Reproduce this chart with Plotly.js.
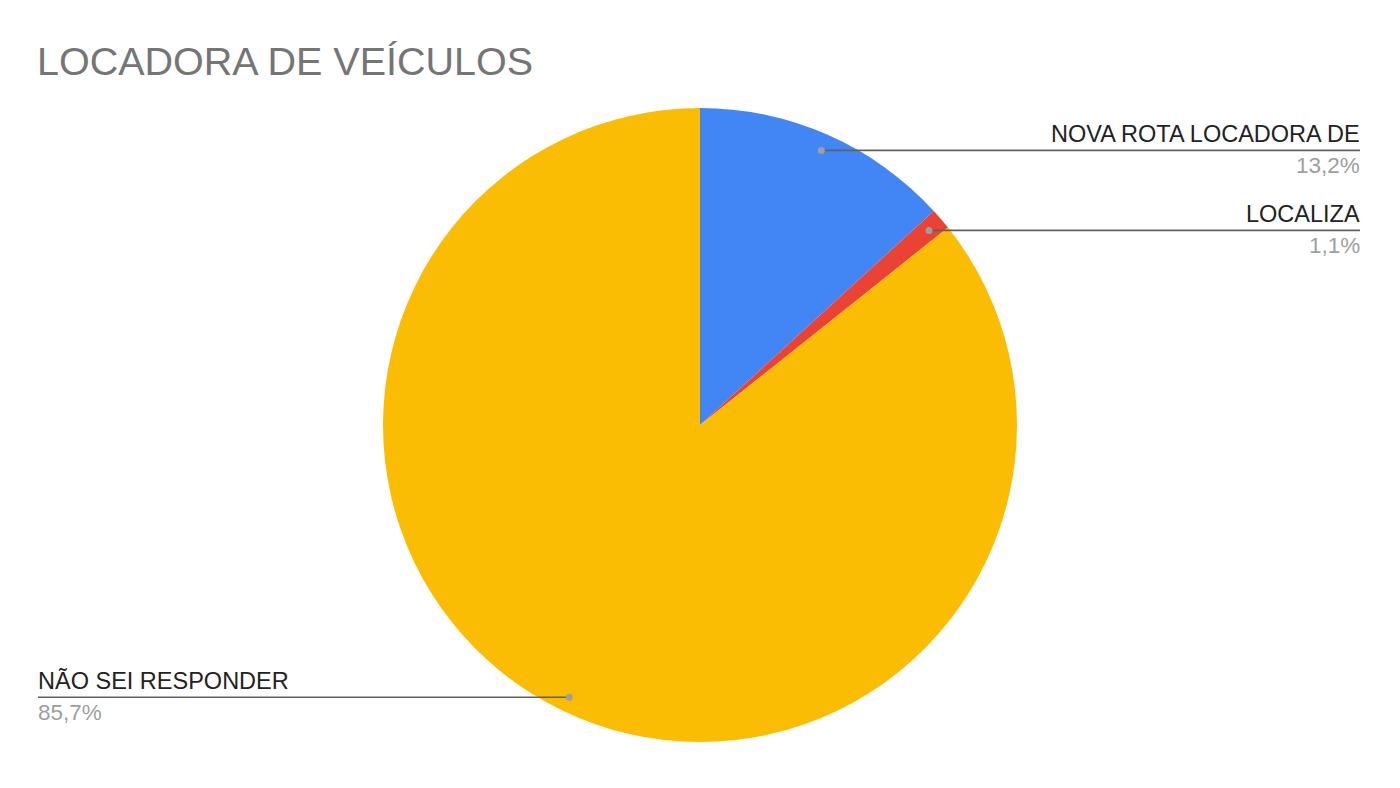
<!DOCTYPE html>
<html>
<head>
<meta charset="utf-8">
<script src="https://cdn.plot.ly/plotly-3.0.1.min.js"></script>
<style>
  html, body { margin: 0; padding: 0; background: #ffffff; }
  #chart { width: 1400px; height: 788px; }
</style>
</head>
<body>
<div id="chart"></div>
<script>
// Rental company responses
const labels = ['NOVA ROTA LOCADORA DE', 'LOCALIZA', 'NÃO SEI RESPONDER'];
const values = [13.2, 1.1, 85.7];
const colors = ['#4285f4', '#ea4335', '#fbbc04'];

const W = 1400, H = 788;
const cx = 700, cy = 425, R = 317;
const rightEdge = 1360, leftEdge = 38;
const FONT = 'Arial, "Liberation Sans", sans-serif';

const px = x => x / W;
const py = y => 1 - y / H;

const total = values.reduce((a, b) => a + b, 0);
const fmt = v => (v / total * 100).toFixed(1).replace('.', ',') + '%';

const shapes = [];
const annotations = [];
let cum = 0;
values.forEach((v, i) => {
  const mid = (cum + v / 2) / total * 2 * Math.PI; // clockwise from 12 o'clock
  cum += v;
  const r = R * 0.95;
  const dx = cx + r * Math.sin(mid);
  const dy = cy - r * Math.cos(mid) + 1;
  const right = Math.sin(mid) >= 0;
  const endX = right ? rightEdge : leftEdge;
  const textX = right ? endX + 2 : endX - 2;
  shapes.push({
    type: 'line', xref: 'paper', yref: 'paper',
    x0: px(dx), y0: py(dy), x1: px(endX), y1: py(dy),
    line: { color: '#616161', width: 1.6 }
  });
  shapes.push({
    type: 'circle', xref: 'paper', yref: 'paper',
    x0: px(dx - 3.5), x1: px(dx + 3.5), y0: py(dy + 3.5), y1: py(dy - 3.5),
    fillcolor: '#9e9e9e', line: { width: 0 }
  });
  annotations.push({
    xref: 'paper', yref: 'paper', x: px(textX), y: py(dy - 1),
    xanchor: right ? 'right' : 'left', yanchor: 'bottom',
    text: labels[i], showarrow: false,
    font: { family: FONT, size: 23.5, color: '#222222' }
  });
  annotations.push({
    xref: 'paper', yref: 'paper', x: px(textX), y: py(dy + 1),
    xanchor: right ? 'right' : 'left', yanchor: 'top',
    text: fmt(v), showarrow: false,
    font: { family: FONT, size: 22.5, color: '#9e9e9e' }
  });
});

const trace = {
  type: 'pie',
  labels: labels,
  values: values,
  marker: { colors: colors, line: { width: 0 } },
  sort: false,
  direction: 'clockwise',
  rotation: 0,
  textinfo: 'none',
  hoverinfo: 'label+percent',
  domain: { x: [px(cx - R), px(cx + R)], y: [py(cy + R), py(cy - R)] }
};

const layout = {
  width: W, height: H,
  margin: { l: 0, r: 0, t: 0, b: 0 },
  paper_bgcolor: '#ffffff',
  showlegend: false,
  title: {
    text: 'LOCADORA DE VEÍCULOS',
    x: px(leftEdge - 1), xanchor: 'left', xref: 'paper',
    y: py(61), yanchor: 'middle', yref: 'paper',
    font: { family: FONT, size: 39.5, color: '#757575' }
  },
  shapes: shapes,
  annotations: annotations
};

Plotly.newPlot('chart', [trace], layout, { displayModeBar: false, staticPlot: true });
</script>
</body>
</html>
